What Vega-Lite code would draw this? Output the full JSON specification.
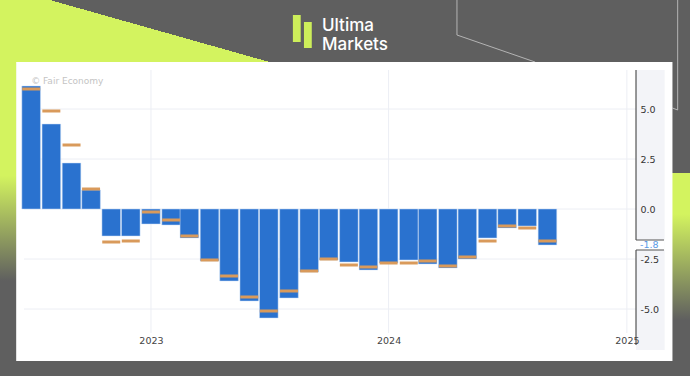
{
  "$schema": "https://vega.github.io/schema/vega-lite/v6.json",
  "width": 612,
  "height": 263,
  "autosize": {"type": "none"},
  "padding": {"left": 24, "top": 70, "right": 54, "bottom": 43},
  "background": "#5f5f5f",
  "title": {
    "text": ["Ultima", "Markets"],
    "color": "#ffffff",
    "font": "Inter",
    "fontSize": 17,
    "fontWeight": 500,
    "lineHeight": 18.5,
    "anchor": "start",
    "frame": "group",
    "dx": 298,
    "dy": 68,
    "offset": 1,
    "baseline": "alphabetic"
  },
  "config": {
    "view": {"stroke": null},
    "font": "DejaVu Sans"
  },
  "datasets": {
    "cpi": [
      {"month": "2022-07-01", "actual": 6.15, "forecast": 6.0},
      {"month": "2022-08-01", "actual": 4.25, "forecast": 4.9},
      {"month": "2022-09-01", "actual": 2.3, "forecast": 3.2},
      {"month": "2022-10-01", "actual": 0.95, "forecast": 1.0},
      {"month": "2022-11-01", "actual": -1.35, "forecast": -1.65},
      {"month": "2022-12-01", "actual": -1.35, "forecast": -1.6},
      {"month": "2023-01-01", "actual": -0.75, "forecast": -0.15},
      {"month": "2023-02-01", "actual": -0.8, "forecast": -0.55},
      {"month": "2023-03-01", "actual": -1.45, "forecast": -1.35},
      {"month": "2023-04-01", "actual": -2.6, "forecast": -2.55},
      {"month": "2023-05-01", "actual": -3.6, "forecast": -3.35},
      {"month": "2023-06-01", "actual": -4.6, "forecast": -4.4},
      {"month": "2023-07-01", "actual": -5.45, "forecast": -5.1},
      {"month": "2023-08-01", "actual": -4.45, "forecast": -4.1},
      {"month": "2023-09-01", "actual": -3.15, "forecast": -3.1},
      {"month": "2023-10-01", "actual": -2.55, "forecast": -2.5},
      {"month": "2023-11-01", "actual": -2.65, "forecast": -2.8},
      {"month": "2023-12-01", "actual": -3.05, "forecast": -2.9},
      {"month": "2024-01-01", "actual": -2.7, "forecast": -2.7},
      {"month": "2024-02-01", "actual": -2.55, "forecast": -2.7},
      {"month": "2024-03-01", "actual": -2.75, "forecast": -2.6},
      {"month": "2024-04-01", "actual": -2.95, "forecast": -2.85},
      {"month": "2024-05-01", "actual": -2.5, "forecast": -2.4},
      {"month": "2024-06-01", "actual": -1.45, "forecast": -1.6},
      {"month": "2024-07-01", "actual": -0.95, "forecast": -0.85},
      {"month": "2024-08-01", "actual": -0.85, "forecast": -0.95},
      {"month": "2024-09-01", "actual": -1.8, "forecast": -1.6}
    ]
  },
  "layer": [
    {
      "data": {"values": [{}]},
      "mark": {"type": "rect", "clip": false,
               "fill": {"gradient": "linear", "x1": 0, "y1": 0, "x2": 1, "y2": -0.3232,
                        "stops": [{"offset": 0, "color": "#d3f35f"}, {"offset": 0.0656, "color": "#d3f35f"},
                                  {"offset": 0.0656, "color": "#5f5f5f"}, {"offset": 1, "color": "#5f5f5f"}]}},
      "encoding": {
        "x": {"datum": {"year": 2022, "month": 5, "date": 14}, "type": "temporal",
              "scale": {"domain": [{"year": 2022, "month": 6, "date": 20}, {"year": 2025, "month": 1, "date": 15}], "nice": false, "padding": 0}},
        "x2": {"datum": {"year": 2025, "month": 4, "date": 8}},
        "y": {"datum": 10.45, "type": "quantitative", "scale": {"domain": [-6.2, 6.95], "nice": false, "zero": false, "padding": 0}},
        "y2": {"datum": 7.3}
      }
    },
    {
      "data": {"values": [{}]},
      "mark": {"type": "rect", "clip": false,
               "fill": {"gradient": "linear", "x1": 0, "y1": 0, "x2": 0, "y2": 1,
                        "stops": [{"offset": 0, "color": "#d3f35f"}, {"offset": 0.48, "color": "#d3f35f"},
                                  {"offset": 0.92, "color": "#5f5f5f"}, {"offset": 1, "color": "#5f5f5f"}]}},
      "encoding": {
        "x": {"datum": {"year": 2022, "month": 5, "date": 14}, "type": "temporal"},
        "x2": {"datum": {"year": 2022, "month": 6, "date": 9}},
        "y": {"datum": 7.4, "type": "quantitative"},
        "y2": {"datum": -4.55}
      }
    },
    {
      "data": {"values": [{}]},
      "mark": {"type": "rect", "clip": false,
               "fill": {"gradient": "linear", "x1": 0, "y1": 0, "x2": 0, "y2": 1,
                        "stops": [{"offset": 0, "color": "#d3f35f"}, {"offset": 0.28, "color": "#d3f35f"},
                                  {"offset": 1, "color": "#5f5f5f"}]}},
      "encoding": {
        "x": {"datum": {"year": 2025, "month": 3, "date": 10}, "type": "temporal"},
        "x2": {"datum": {"year": 2025, "month": 4, "date": 8}},
        "y": {"datum": 1.8, "type": "quantitative"},
        "y2": {"datum": -5.55}
      }
    },
    {
      "data": {"values": [{}]},
      "mark": {"type": "rule", "color": "#b4b4b4", "strokeWidth": 1, "clip": false},
      "encoding": {
        "x": {"datum": {"year": 2024, "month": 4, "date": 15}, "type": "temporal"},
        "y": {"datum": 10.45, "type": "quantitative"},
        "y2": {"datum": 8.7}
      }
    },
    {
      "data": {"values": [{}]},
      "mark": {"type": "rule", "color": "#b4b4b4", "strokeWidth": 1, "clip": false},
      "encoding": {
        "x": {"datum": {"year": 2024, "month": 4, "date": 15}, "type": "temporal"},
        "x2": {"datum": {"year": 2024, "month": 8, "date": 13}},
        "y": {"datum": 8.7, "type": "quantitative"},
        "y2": {"datum": 7.35}
      }
    },
    {
      "data": {"values": [{}]},
      "mark": {"type": "rule", "color": "#b4b4b4", "strokeWidth": 1, "clip": false},
      "encoding": {
        "x": {"datum": {"year": 2025, "month": 3, "date": 20}, "type": "temporal"},
        "y": {"datum": 10.45, "type": "quantitative"},
        "y2": {"datum": 4.95}
      }
    },
    {
      "data": {"values": [{}]},
      "mark": {"type": "rule", "color": "#b4b4b4", "strokeWidth": 1, "clip": false},
      "encoding": {
        "x": {"datum": {"year": 2025, "month": 3, "date": 20}, "type": "temporal"},
        "x2": {"datum": {"year": 2025, "month": 3, "date": 12}},
        "y": {"datum": 4.95, "type": "quantitative"},
        "y2": {"datum": 5.05}
      }
    },
    {
      "data": {"values": [{}]},
      "mark": {"type": "rect", "fill": "#cdee5a", "clip": false},
      "encoding": {
        "x": {"datum": {"year": 2023, "month": 8, "date": 7}, "type": "temporal"},
        "x2": {"datum": {"year": 2023, "month": 8, "date": 19}},
        "y": {"datum": 9.7, "type": "quantitative"},
        "y2": {"datum": 8.35}
      }
    },
    {
      "data": {"values": [{}]},
      "mark": {"type": "rect", "fill": "#cdee5a", "clip": false},
      "encoding": {
        "x": {"datum": {"year": 2023, "month": 8, "date": 24}, "type": "temporal"},
        "x2": {"datum": {"year": 2023, "month": 9, "date": 5}},
        "y": {"datum": 9.35, "type": "quantitative"},
        "y2": {"datum": 8.05}
      }
    },
    {
      "data": {"values": [{}]},
      "mark": {"type": "rect", "fill": "#ffffff", "clip": false},
      "encoding": {
        "x": {"datum": {"year": 2022, "month": 6, "date": 8}, "type": "temporal"},
        "x2": {"datum": {"year": 2025, "month": 3, "date": 12}},
        "y": {"datum": 7.35, "type": "quantitative"},
        "y2": {"datum": -7.6}
      }
    },
    {
      "data": {"values": [{}]},
      "mark": {"type": "rect", "fill": "#f3f4f8", "clip": false},
      "encoding": {
        "x": {"datum": {"year": 2025, "month": 1, "date": 15}, "type": "temporal"},
        "x2": {"datum": {"year": 2025, "month": 2, "date": 28}},
        "y": {"datum": 6.95, "type": "quantitative"},
        "y2": {"datum": -7.05}
      }
    },
    {
      "data": {"values": [{"v": 5}, {"v": 2.5}, {"v": 0}, {"v": -2.5}, {"v": -5}]},
      "mark": {"type": "rule", "color": "#eceef4", "strokeWidth": 1},
      "encoding": {
        "y": {"field": "v", "type": "quantitative"}
      }
    },
    {
      "data": {"values": [{"d": "2023-01-01"}, {"d": "2024-01-01"}, {"d": "2025-01-01"}]},
      "mark": {"type": "rule", "color": "#eceef4", "strokeWidth": 1},
      "encoding": {
        "x": {"field": "d", "type": "temporal"}
      }
    },
    {
      "data": {"name": "cpi"},
      "mark": {"type": "bar", "width": 18.6, "color": "#2a72cf", "stroke": "#c9dcf4", "strokeWidth": 0.5, "clip": false},
      "encoding": {
        "x": {"field": "month", "type": "temporal",
              "axis": {"values": [{"year": 2023, "month": 1, "date": 1}, {"year": 2024, "month": 1, "date": 1}, {"year": 2025, "month": 1, "date": 1}],
                       "format": "%Y", "title": null, "domain": false, "ticks": false, "grid": false, "zindex": 1,
                       "labelFont": "DejaVu Sans", "labelFontSize": 9.5, "labelColor": "#444444", "labelPadding": 2,
                       "labelFlush": false, "labelOverlap": false}},
        "y": {"field": "actual", "type": "quantitative",
              "axis": {"orient": "right", "values": [5, 2.5, 0, -2.5, -5],
                       "labelExpr": "replace(format(datum.value, '.1f'), '\u2212', '-')", "title": null,
                       "domain": false, "ticks": false, "grid": false, "zindex": 1,
                       "labelFont": "DejaVu Sans", "labelFontSize": 9.5, "labelColor": "#333333", "labelPadding": 4}}
      }
    },
    {
      "data": {"name": "cpi"},
      "mark": {"type": "tick", "orient": "horizontal", "size": 18, "thickness": 3, "color": "#d99a5b", "opacity": 1},
      "encoding": {
        "x": {"field": "month", "type": "temporal"},
        "y": {"field": "forecast", "type": "quantitative"}
      }
    },
    {
      "data": {"values": [{}]},
      "mark": {"type": "rect", "fill": "#ffffff", "clip": false},
      "encoding": {
        "x": {"datum": {"year": 2025, "month": 1, "date": 14}, "type": "temporal"},
        "x2": {"datum": {"year": 2025, "month": 2, "date": 28}},
        "y": {"datum": -1.55, "type": "quantitative"},
        "y2": {"datum": -2.05}
      }
    },
    {
      "data": {"values": [{"a": 6.95, "b": -1.55}, {"a": -2.05, "b": -6.8}]},
      "mark": {"type": "rule", "color": "#333333", "strokeWidth": 1, "clip": false},
      "encoding": {
        "x": {"datum": {"year": 2025, "month": 1, "date": 15}, "type": "temporal"},
        "y": {"field": "a", "type": "quantitative"},
        "y2": {"field": "b"}
      }
    },
    {
      "data": {"values": [{"a": -1.55}, {"a": -2.05}]},
      "mark": {"type": "rule", "color": "#555555", "strokeWidth": 1, "clip": false},
      "encoding": {
        "x": {"datum": {"year": 2025, "month": 1, "date": 15}, "type": "temporal"},
        "x2": {"datum": {"year": 2025, "month": 2, "date": 27}},
        "y": {"field": "a", "type": "quantitative"}
      }
    },
    {
      "data": {"name": "cpi"},
      "transform": [
        {"joinaggregate": [{"op": "max", "field": "month", "as": "last"}]},
        {"filter": "time(datum.month) == time(datum.last)"}
      ],
      "mark": {"type": "text", "align": "left", "baseline": "middle", "dx": 4, "fontSize": 9.5, "font": "DejaVu Sans", "color": "#5a9ae6", "clip": false},
      "encoding": {
        "x": {"datum": {"year": 2025, "month": 1, "date": 15}, "type": "temporal"},
        "y": {"field": "actual", "type": "quantitative"},
        "text": {"field": "actual", "type": "nominal"}
      }
    },
    {
      "data": {"values": [{}]},
      "mark": {"type": "text", "align": "left", "baseline": "middle", "fontSize": 9, "font": "DejaVu Sans", "color": "#c4c4c4"},
      "encoding": {
        "x": {"datum": {"year": 2022, "month": 7, "date": 1}, "type": "temporal"},
        "y": {"datum": 6.38, "type": "quantitative"},
        "text": {"value": "© Fair Economy"}
      }
    }
  ]
}
